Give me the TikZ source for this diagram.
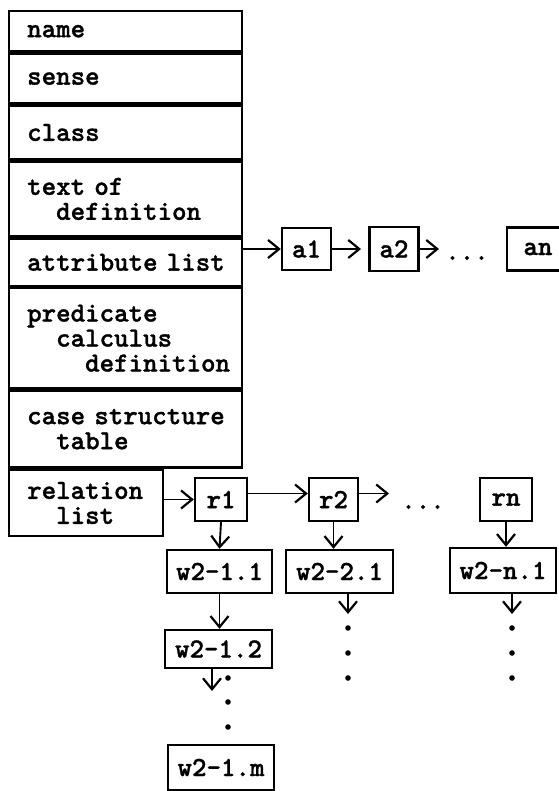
\documentclass[tikz,border=0pt]{standalone}
\usepackage{fontspec}
\usepackage{tikz}
\usetikzlibrary{arrows.meta}
\newfontfamily\boxfont{lmmonolt10-bold.otf}[FakeBold=1.2]
\newcommand\boxtext{\boxfont\fontsize{27.6}{25}\selectfont}

\begin{document}
\begin{tikzpicture}[x=1pt,y=-1pt,
    every node/.style={font=\boxtext},
    field/.style={draw,line width=2.4pt,anchor=north west,align=left,
      text width=215pt,inner xsep=9pt,inner ysep=0pt,
      execute at begin node={\leftskip=9pt}},
    cell/.style={draw,line width=2.4pt,inner sep=0pt,
      minimum width=52pt,minimum height=43pt},
    word/.style={cell,minimum width=106pt},
    link/.style={-{Straight Barb[length=11pt,width=18pt,line width=2.2pt]},line width=1.9pt}]
  \useasboundingbox (0,0) rectangle (558,791);

  \node[field,minimum height=40pt] (name) at (8,10) {name};
  \node[field,minimum height=50pt] (sense) at (name.south west) {sense};
  \node[field,minimum height=53pt] (class) at (sense.south west) {class};
  \node[field,minimum height=75pt] (textdef) at (class.south west)
    {text of\\\phantom{xx}definition};
  \node[field,minimum height=47pt] (attr) at (textdef.south west) {attribute list};
  \node[field,minimum height=100pt] (pred) at (attr.south west)
    {predicate\\\phantom{xx}calculus\\\phantom{xxxx}definition};
  \node[field,minimum height=77pt] (case) at (pred.south west)
    {case structure\\\phantom{xx}table};
  \node[field,minimum height=66pt,text width=136pt] (rel) at (case.south west)
    {relation\\\phantom{xx}list};

  \node[cell,minimum width=49pt,minimum height=42pt] (a1) at (306.5,249) {a1};
  \node[cell,minimum width=49pt,minimum height=44pt] (a2) at (394,249) {a2};
  \node[cell,minimum width=62pt,minimum height=43pt] (an) at (538,249) {an};
  \coordinate (a1to) at (361,249);
  \coordinate (a2to) at (439,249);
  \node (adots) at (467,258) {...};

  \node[cell] (r1) at (221,499.5) {r1};
  \node[cell,minimum width=49pt] (r2) at (333.5,499.5) {r2};
  \node[cell] (rn) at (506,499.5) {rn};
  \coordinate (r2to) at (389,493.5);
  \node (rdots) at (423,507) {...};

  \node[word,minimum width=105pt] (w11) at (219.5,571.5) {w2-1.1};
  \node[word,minimum width=107pt] (w21) at (339.5,571.5) {w2-2.1};
  \node[word,minimum height=45pt] (wn1) at (503,570.5) {w2-n.1};
  \node[word,minimum width=107pt,minimum height=38pt] (w12) at (218.5,649) {w2-1.2};
  \node[word,minimum height=45pt] (w1m) at (221,767.5) {w2-1.m};
  \coordinate (w12to) at (212,691);
  \coordinate (w21to) at (348,614);
  \coordinate (wn1to) at (512,614);

  \draw[link] (a1.west -| attr.east) -- (a1.west);
  \draw[link] (a1.east) -- (a1to);
  \draw[link] (a2.east) -- (a2to);

  \draw[link] (r1.west -| rel.east) -- (r1.west);
  \draw[link] ([yshift=6pt]r1.east) -- ([yshift=6pt]r2.west);
  \draw[link] (r2.east |- r2to) -- (r2to);

  \draw[link] (r1.south) -- (w11.north);
  \draw[link] (r2.south) -- (r2.south |- w21.north);
  \draw[link] (rn.south) -- (rn.south |- wn1.north);
  \draw[link] (w11.south) -- (w11.south |- w12.north);
  \draw[link] (w12.south -| w12to) -- (w12to);
  \draw[link] (w21.south -| w21to) -- (w21to);
  \draw[link] (wn1.south -| wn1to) -- (wn1to);

  \fill (228,678) circle (2.8pt) (228,702) circle (2.8pt) (228,727) circle (2.8pt);
  \fill (348,628) circle (2.8pt) (348,653) circle (2.8pt) (348,678) circle (2.8pt);
  \fill (512,628) circle (2.8pt) (512,653) circle (2.8pt) (512,678) circle (2.8pt);
\end{tikzpicture}
\end{document}
